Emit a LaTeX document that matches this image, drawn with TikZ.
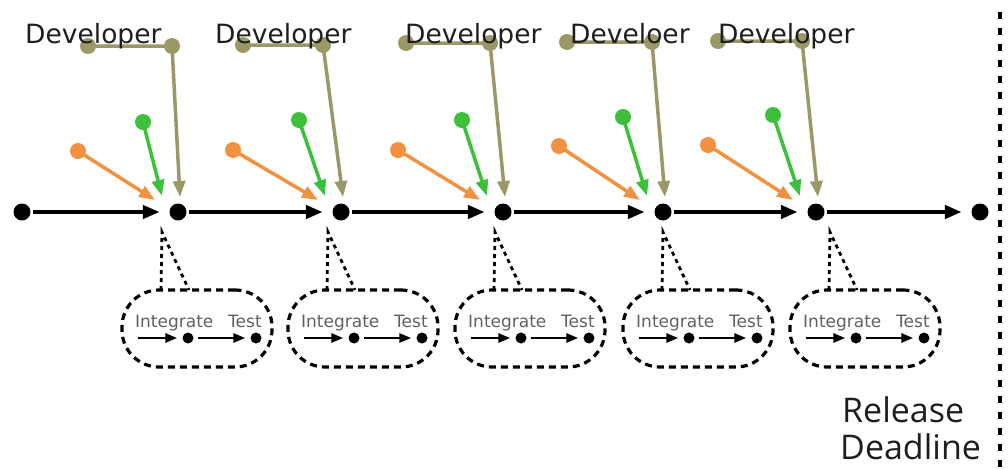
\documentclass[tikz,border=0pt]{standalone}
\usepackage{fontspec}
\setmainfont{Open Sans}
\newfontfamily\labelfont{DejaVu Sans}
\usetikzlibrary{arrows.meta}
\definecolor{devorange}{HTML}{F2913F}
\definecolor{devgreen}{HTML}{3CBF3A}
\definecolor{devolive}{HTML}{9B9868}
\definecolor{inktext}{HTML}{1E1E1E}
\definecolor{softtext}{HTML}{606060}
\begin{document}
\begin{tikzpicture}[x=1pt,y=-1pt,
  bigdot/.style={circle,fill=black,inner sep=0pt,minimum size=17pt},
  smalldot/.style={circle,fill=black,inner sep=0pt,minimum size=11pt},
  olivedot/.style={circle,fill=devolive,inner sep=0pt,minimum size=16pt},
  greendot/.style={circle,fill=devgreen,inner sep=0pt,minimum size=16pt},
  orangedot/.style={circle,fill=devorange,inner sep=0pt,minimum size=16pt},
  timeline/.style={line width=4.5pt,-{Triangle[length=17pt,width=13pt]},shorten <=2pt,shorten >=9.5pt},
  olivearr/.style={devolive,line width=3.5pt,-{Triangle[length=16pt,width=12pt]}},
  greenarr/.style={devgreen,line width=3.5pt,-{Triangle[length=16pt,width=12pt]}},
  orangearr/.style={devorange,line width=3.5pt,-{Triangle[length=16pt,width=12pt]}},
  bubble/.style={draw,line width=3.2pt,dash pattern=on 7pt off 5pt,rounded corners=37pt,minimum width=150pt,minimum height=77pt,inner sep=0pt},
  tail/.style={line width=2.8pt,dash pattern=on 4pt off 4pt},
  inarr/.style={line width=2.8pt,-{Triangle[length=12pt,width=9pt]}},
  devlabel/.style={anchor=base west,inner sep=0pt,text=inktext,font=\labelfont\fontsize{26.5}{32}\selectfont},
  inlabel/.style={anchor=base west,inner sep=0pt,text=softtext,font=\labelfont\fontsize{17}{20}\selectfont},
  bigtext/.style={anchor=base west,inner sep=0pt,text=inktext,font=\fontsize{34}{40}\selectfont},
  deadline/.style={line width=4pt,dash pattern=on 7pt off 9pt}]
\useasboundingbox (0,0) rectangle (1008,469);

% commits from the developers flowing into each integration point
\foreach \i/\D/\oa/\ob/\oy/\gx/\gy/\ox/\oyy in {
    1/178/88/172/46/143/122/78/151,
    2/341/243/323/45/299/120/233/150,
    3/503/406/490/43/462/120/398/150,
    4/663/567/652/42/623/117/559/146,
    5/816/718/802/41/773/115/708/145}{
  \node[olivedot] (oa\i) at (\oa,\oy) {};
  \node[olivedot] (ob\i) at (\ob,\oy) {};
  \coordinate (ot\i) at (\D+2,197);
  \draw[olivearr] (oa\i.center) -- (ob\i.center) -- (ot\i);
  \node[greendot] (g\i) at (\gx,\gy) {};
  \coordinate (gt\i) at (\D-16,196);
  \draw[greenarr] (g\i.center) -- (gt\i);
  \node[orangedot] (o\i) at (\ox,\oyy) {};
  \coordinate (rt\i) at (\D-23,200);
  \draw[orangearr] (o\i.center) -- (rt\i);
}

% developer names
\foreach \i/\x/\t in {1/25/Developer,2/215/Developer,3/405/Developer,4/570/Develoer,5/718/Developer}
  \node[devlabel] (dev\i) at (\x,43) {\t};

% main timeline
\foreach \i/\x in {0/22,1/178,2/341,3/503,4/663,5/816,6/980}
  \node[bigdot] (d\i) at (\x,212) {};
\foreach \i/\j in {0/1,1/2,2/3,3/4,4/5,5/6}
  \draw[timeline] (d\i) -- (d\j);

% integrate-and-test callouts
\foreach \i/\L in {1/122,2/288,3/455,4/623,5/790}{
  \node[bubble] (b\i) at (\L+75,328.5) {};
  \coordinate (tt\i) at (\L+40,232);
  \coordinate (tl\i) at (\L+39,290);
  \coordinate (tr\i) at (\L+67,290);
  \draw[tail] (tl\i) -- (tt\i) -- (tr\i);
  \node[inlabel] (int\i) at (\L+13,327) {Integrate};
  \node[inlabel] (tst\i) at (\L+106,327) {Test};
  \coordinate (ia\i) at (\L+16,338);
  \node[smalldot] (sa\i) at (\L+66,338) {};
  \node[smalldot] (sb\i) at (\L+134,338) {};
  \draw[inarr,shorten >=5pt] (ia\i) -- (sa\i);
  \draw[inarr,shorten <=4pt,shorten >=5pt] (sa\i) -- (sb\i);
}

% release deadline
\coordinate (dlt) at (1000,12);
\coordinate (dlb) at (1000,469);
\draw[deadline] (dlt) -- (dlb);
\node[bigtext] (rel) at (842,422) {Release};
\node[bigtext] (ddl) at (840,459) {Deadline};
\end{tikzpicture}
\end{document}
